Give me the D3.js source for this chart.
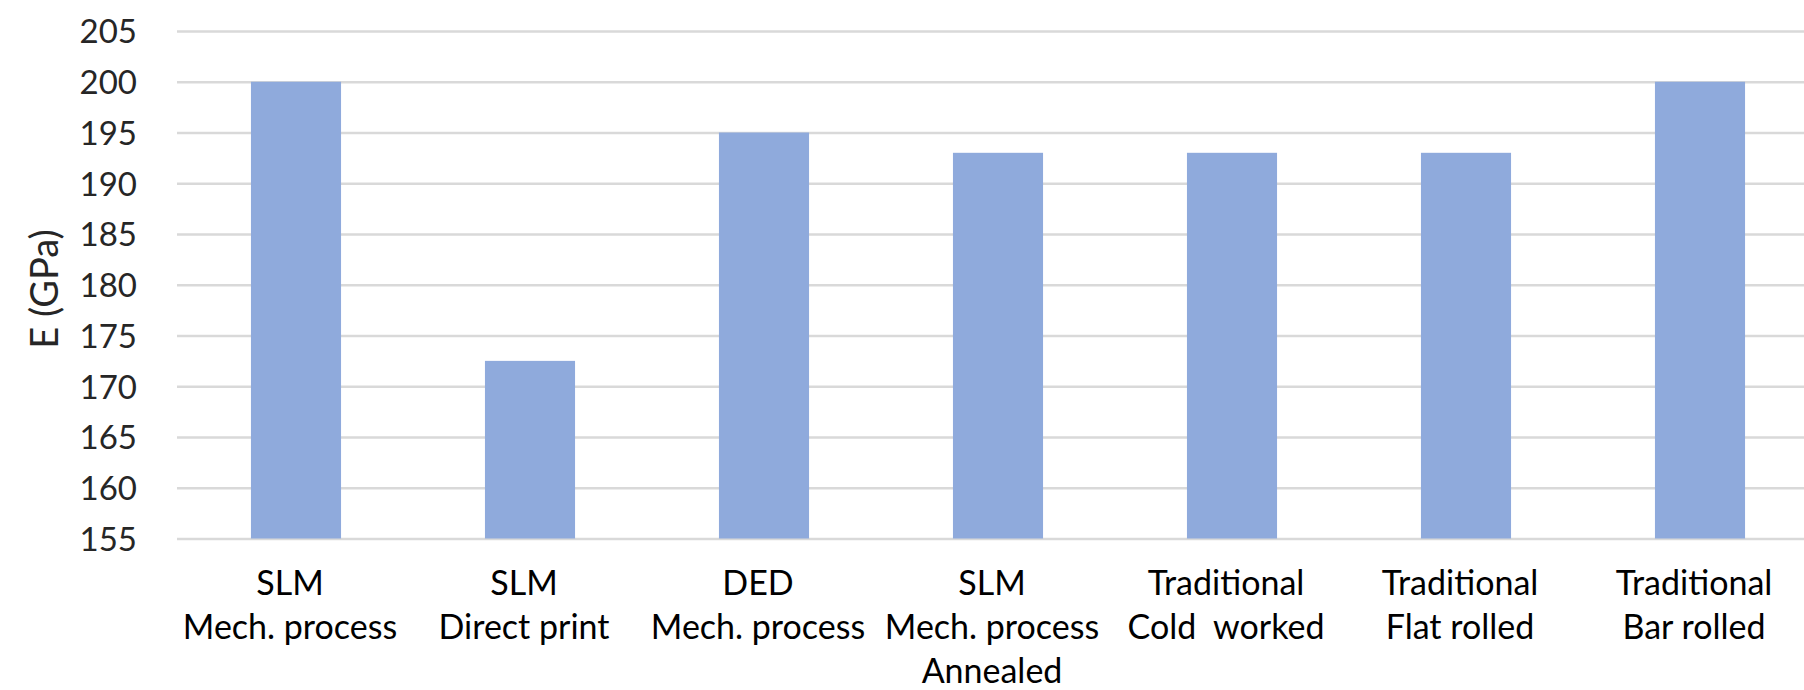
<!DOCTYPE html>
<html>
<head>
<meta charset="utf-8">
<script src="https://cdn.jsdelivr.net/npm/d3@7"></script>
<style>
  html, body { margin: 0; padding: 0; background: #ffffff; }
  svg { display: block; }
  text { font-family: Lato, "Open Sans", sans-serif; }
</style>
</head>
<body>
<svg id="chart" width="1804" height="690"></svg>
<script>
// Young's modulus by manufacturing route
const categories = [
  ["SLM", "Mech. process"],
  ["SLM", "Direct print"],
  ["DED", "Mech. process"],
  ["SLM", "Mech. process", "Annealed"],
  ["Traditional", "Cold  worked"],
  ["Traditional", "Flat rolled"],
  ["Traditional", "Bar rolled"]
];
const modulus = [200, 172.5, 195, 193, 193, 193, 200];
const yTicks = [155, 160, 165, 170, 175, 180, 185, 190, 195, 200, 205];
const yTitle = "E (GPa)";

const W = 1804, H = 690;
const plot = { left: 177, right: 1817, top: 31, bottom: 538.5 };

const svg = d3.select("#chart");
const keys = categories.map((c, i) => i);

const gap = 0.615;
const x = d3.scaleBand()
  .domain(keys)
  .range([plot.left + 2, plot.right])
  .paddingInner(gap)
  .paddingOuter(gap / 2);

const y = d3.scaleLinear()
  .domain([155, 205])
  .range([plot.bottom, plot.top]);

// horizontal gridlines
const yAxis = d3.axisLeft(y)
  .tickValues(yTicks)
  .tickSize(-(W - plot.left))
  .tickPadding(40)
  .tickFormat(d3.format("d"));

const gy = svg.append("g")
  .attr("transform", `translate(${plot.left},0)`)
  .call(yAxis);
gy.select(".domain").remove();
gy.selectAll(".tick line")
  .attr("stroke", "#d9d9d9")
  .attr("stroke-width", 2.5);
gy.selectAll(".tick text")
  .attr("fill", "#262626")
  .attr("font-size", 33)
  .attr("dy", "0.36em");

// bars
svg.append("g")
  .selectAll("rect")
  .data(modulus)
  .join("rect")
  .attr("x", (d, i) => x(i))
  .attr("width", x.bandwidth())
  .attr("y", d => y(d))
  .attr("height", d => y(155) - y(d))
  .attr("fill", "#8faadc");

// category labels (multi-line)
const xAxis = d3.axisBottom(x).tickSize(0).tickFormat("");
const gx = svg.append("g")
  .attr("transform", `translate(0,${plot.bottom})`)
  .call(xAxis);
gx.select(".domain").remove();
gx.selectAll(".tick").each(function (i) {
  const t = d3.select(this).append("text")
    .attr("fill", "#000000")
    .attr("font-size", 34)
    .attr("text-anchor", "middle")
    .attr("x", -6)
    .attr("y", 56);
  categories[i].forEach((line, k) => {
    t.append("tspan")
      .attr("x", -6)
      .attr("dy", k === 0 ? 0 : 44)
      .attr("xml:space", "preserve")
      .text(line);
  });
});

// axis title
svg.append("text")
  .attr("transform", "translate(58,289) rotate(-90)")
  .attr("text-anchor", "middle")
  .attr("fill", "#262626")
  .attr("font-size", 38)
  .text(yTitle);
</script>
</body>
</html>
